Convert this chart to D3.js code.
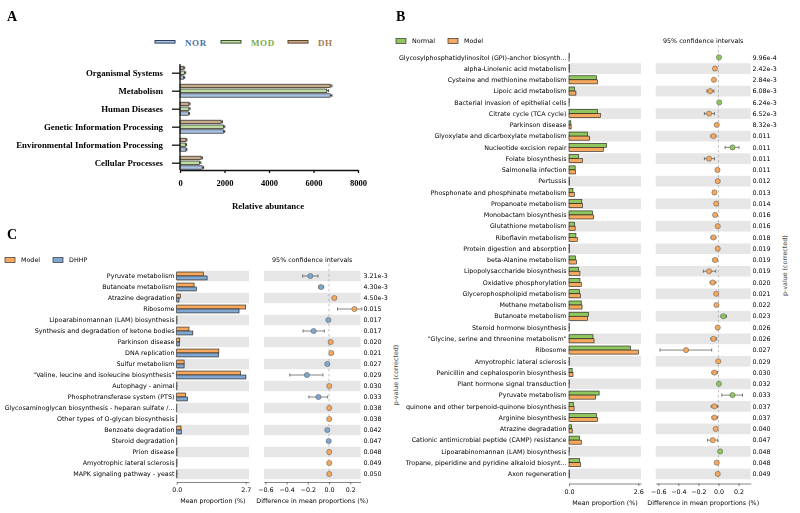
<!DOCTYPE html>
<html>
<head>
<meta charset="UTF-8">
<title>Functional profiles</title>
<script src="https://cdn.jsdelivr.net/npm/d3@7/dist/d3.min.js"></script>
<style>
html, body { margin: 0; padding: 0; background: white; }
svg { display: block; }
.stamp text { font-family: 'DejaVu Sans', sans-serif; fill: #000; }
.panA text { font-family: 'Liberation Serif', 'Times New Roman', serif; font-weight: bold; fill: #000; }
</style>
</head>
<body>
<script>
// ---------- panel A : KEGG level 1 ----------
var aCats = ["Organismal Systems", "Metabolism", "Human Diseases",
  "Genetic Information Processing", "Environmental Information Processing", "Cellular Processes"];
var aNOR = [150, 6750, 380, 1950, 270, 1000];
var aMOD = [200, 6600, 400, 1950, 250, 880];
var aDH  = [150, 6750, 400, 1850, 270, 950];
var aErr = [60, 80, 50, 60, 40, 60];
var aTicks = [0, 2000, 4000, 6000, 8000];
var aGroups = ["NOR", "MOD", "DH"];

// ---------- panel B : Normal vs Model ----------
var bNames = ["Glycosylphosphatidylinositol (GPI)-anchor biosynth...", "alpha-Linolenic acid metabolism",
  "Cysteine and methionine metabolism", "Lipoic acid metabolism", "Bacterial invasion of epithelial cells",
  "Citrate cycle (TCA cycle)", "Parkinson disease", "Glyoxylate and dicarboxylate metabolism",
  "Nucleotide excision repair", "Folate biosynthesis", "Salmonella infection", "Pertussis",
  "Phosphonate and phosphinate metabolism", "Propanoate metabolism", "Monobactam biosynthesis",
  "Glutathione metabolism", "Riboflavin metabolism", "Protein digestion and absorption",
  "beta-Alanine metabolism", "Lipopolysaccharide biosynthesis", "Oxidative phosphorylation",
  "Glycerophospholipid metabolism", "Methane metabolism", "Butanoate metabolism",
  "Steroid hormone biosynthesis", "\"Glycine, serine and threonine metabolism\"", "Ribosome",
  "Amyotrophic lateral sclerosis", "Penicillin and cephalosporin biosynthesis",
  "Plant hormone signal transduction", "Pyruvate metabolism",
  "quinone and other terpenoid-quinone biosynthesis", "Arginine biosynthesis", "Atrazine degradation",
  "Cationic antimicrobial peptide (CAMP) resistance", "Lipoarabinomannan (LAM) biosynthesis",
  "Tropane, piperidine and pyridine alkaloid biosynt...", "Axon regeneration"];
var bNormal = [0.01, 0.02, 1.03, 0.2, 0.01, 1.07, 0.07, 0.7, 1.41, 0.35, 0.23, 0.02, 0.15, 0.48, 0.88,
  0.21, 0.26, 0.02, 0.24, 0.36, 0.41, 0.4, 0.46, 0.73, 0.01, 0.9, 2.3, 0.01, 0.12, 0.01, 1.13, 0.16,
  1.03, 0.1, 0.39, 0.01, 0.4, 0.01];
var bModel = [0.005, 0.025, 1.07, 0.26, 0.005, 1.18, 0.08, 0.77, 1.29, 0.5, 0.24, 0.025, 0.2, 0.5, 0.92,
  0.23, 0.31, 0.025, 0.28, 0.41, 0.46, 0.43, 0.49, 0.69, 0.015, 0.94, 2.6, 0.012, 0.15, 0.005, 1.0, 0.19,
  1.07, 0.12, 0.46, 0.005, 0.43, 0.015];
var bDiff = [0.005, -0.035, -0.045, -0.083, 0.008, -0.093, -0.017, -0.05, 0.14, -0.093, -0.01, -0.007,
  -0.04, -0.023, -0.033, -0.007, -0.05, -0.007, -0.033, -0.093, -0.057, -0.023, -0.02, 0.05, -0.007,
  -0.05, -0.323, -0.002, -0.04, 0.005, 0.14, -0.04, -0.04, -0.027, -0.057, 0.017, -0.017, -0.007];
var bLo = [0.002, -0.04, -0.055, -0.115, 0.005, -0.14, -0.022, -0.075, 0.067, -0.14, -0.014, -0.01,
  -0.05, -0.03, -0.042, -0.012, -0.075, -0.01, -0.055, -0.15, -0.083, -0.03, -0.027, 0.025, -0.01,
  -0.075, -0.583, -0.004, -0.065, 0.003, 0.033, -0.073, -0.065, -0.035, -0.11, 0.013, -0.025, -0.01];
var bHi = [0.008, -0.03, -0.035, -0.045, 0.011, -0.04, -0.012, -0.025, 0.205, -0.04, -0.006, -0.004,
  -0.03, -0.016, -0.024, -0.002, -0.025, -0.004, -0.011, -0.027, -0.025, -0.016, -0.013, 0.08, -0.004,
  -0.018, -0.067, 0, -0.01, 0.007, 0.24, -0.007, -0.01, -0.019, -0.007, 0.021, -0.009, -0.004];
var bP = ["9.96e-4", "2.42e-3", "2.84e-3", "6.08e-3", "6.24e-3", "6.52e-3", "8.32e-3", "0.011", "0.011",
  "0.011", "0.011", "0.012", "0.013", "0.014", "0.016", "0.016", "0.018", "0.019", "0.019", "0.019",
  "0.020", "0.021", "0.022", "0.023", "0.026", "0.026", "0.027", "0.029", "0.030", "0.032", "0.033",
  "0.037", "0.037", "0.040", "0.047", "0.048", "0.048", "0.049"];

// ---------- panel C : Model vs DHHP ----------
var cNames = ["Pyruvate metabolism", "Butanoate metabolism", "Atrazine degradation", "Ribosome",
  "Lipoarabinomannan (LAM) biosynthesis", "Synthesis and degradation of ketone bodies", "Parkinson disease",
  "DNA replication", "Sulfur metabolism", "\"Valine, leucine and isoleucine biosynthesis\"",
  "Autophagy - animal", "Phosphotransferase system (PTS)",
  "Glycosaminoglycan biosynthesis - heparan sulfate /...", "Other types of O-glycan biosynthesis",
  "Benzoate degradation", "Steroid degradation", "Prion disease", "Amyotrophic lateral sclerosis",
  "MAPK signaling pathway - yeast"];
var cModel = [1.04, 0.68, 0.14, 2.7, 0.01, 0.48, 0.12, 1.65, 0.29, 2.5, 0.01, 0.35, 0.005, 0.005,
  0.17, 0.005, 0.012, 0.012, 0.012];
var cDHHP = [1.19, 0.77, 0.09, 2.44, 0.01, 0.63, 0.1, 1.64, 0.29, 2.71, 0.008, 0.43, 0.004, 0.004,
  0.18, 0.006, 0.01, 0.01, 0.01];
var cDiff = [-0.176, -0.075, 0.05, 0.24, -0.006, -0.145, 0.016, 0.022, -0.016, -0.208, 0.002, -0.1,
  0.002, 0.002, -0.016, -0.003, 0.002, 0.002, 0.002];
var cLo = [-0.248, -0.097, 0.035, 0.08, -0.009, -0.245, 0.012, 0.016, -0.022, -0.37, 0, -0.19,
  0, 0, -0.022, -0.005, 0, 0, 0];
var cHi = [-0.104, -0.05, 0.068, 0.31, -0.003, -0.044, 0.02, 0.028, -0.01, -0.057, 0.004, -0.013,
  0.004, 0.004, -0.01, -0.001, 0.004, 0.004, 0.004];
var cP = ["3.21e-3", "4.30e-3", "4.50e-3", "0.015", "0.017", "0.017", "0.020", "0.021", "0.027", "0.029",
  "0.030", "0.033", "0.038", "0.038", "0.042", "0.047", "0.048", "0.049", "0.050"];

var svg = d3.select("body").append("svg")
    .attr("width", 800)
    .attr("height", 513)
    .attr("viewBox", "0 0 800 513");

// grey filter so small text doesn't pick up coloured antialiasing
svg.append("defs").append("filter").attr("id", "grey")
    .attr("x", "-5%").attr("y", "-20%").attr("width", "110%").attr("height", "140%")
    .append("feColorMatrix").attr("type", "saturate").attr("values", "0");

// ================= panel A =================
var pa = svg.append("g").attr("class", "panA");
var aFill = { NOR: "#a9c2e3", MOD: "#bedca2", DH: "#c9ab88" };
var aLine = { NOR: "#2d3f5e", MOD: "#3f5232", DH: "#5a4430" };
var aText = { NOR: "#4f6fa3", MOD: "#7cab45", DH: "#a27b52" };
var aVals = { NOR: aNOR, MOD: aMOD, DH: aDH };

pa.append("text").attr("x", 7).attr("y", 21).attr("font-size", 14).text("A");

var ax = d3.scaleLinear().domain([0, 8000]).range([180, 358]);
var ay = d3.scalePoint().domain(aCats).range([72.7, 162.7]);
// DH on top, MOD in the middle, NOR at the bottom of each group
var aSub = d3.scalePoint().domain(["DH", "MOD", "NOR"]).range([-4.8, 4.8]);

aGroups.forEach(function (g, k) {
    var lx = [155, 221, 288][k];
    pa.append("rect").attr("x", lx).attr("y", 40.5).attr("width", 20).attr("height", 2.6)
        .attr("fill", aFill[g]).attr("stroke", aLine[g]).attr("stroke-width", 1);
    pa.append("text").attr("class", "legtxt").attr("x", lx + 30).attr("y", 45.5).attr("font-size", 9)
        .attr("font-weight", "normal").attr("letter-spacing", 0.6)
        .style("fill", aText[g]).text(g);
});

aGroups.forEach(function (g) {
    var vals = aVals[g];
    var gg = pa.append("g");
    gg.selectAll("rect").data(aCats).enter().append("rect")
        .attr("x", ax(0))
        .attr("y", function (d) { return ay(d) + aSub(g) - 1.7; })
        .attr("width", function (d, i) { return ax(vals[i]) - ax(0); })
        .attr("height", 3.4)
        .attr("fill", aFill[g])
        .attr("stroke", "#222")
        .attr("stroke-width", 0.7);
    gg.selectAll("path").data(aCats).enter().append("path")
        .attr("d", function (d, i) {
            var x1 = ax(vals[i]), x2 = ax(vals[i] + aErr[i]), yy = ay(d) + aSub(g);
            return "M" + x1 + "," + yy + "H" + x2 + "M" + x2 + "," + (yy - 1.5) + "V" + (yy + 1.5);
        })
        .attr("stroke", "#222").attr("stroke-width", 0.8).attr("fill", "none");
});

var axB = pa.append("g").attr("transform", "translate(0,170)")
    .call(d3.axisBottom(ax).tickValues(aTicks).tickFormat(d3.format("d"))
        .tickSize(3).tickSizeOuter(0).tickPadding(7));
axB.selectAll("text").attr("font-size", 8.5);
var axL = pa.append("g").attr("transform", "translate(180,0)")
    .call(d3.axisLeft(ay).tickSize(8).tickPadding(9));
axL.select(".domain").attr("d", "M0,64V170");
axL.selectAll("text").attr("font-size", 8.8);
pa.selectAll(".domain, .tick line").attr("stroke", "#111").attr("stroke-width", 1.3);
pa.append("text").attr("x", 268).attr("y", 209).attr("text-anchor", "middle")
    .attr("font-size", 8.8).text("Relative abuntance");

// ================= STAMP style panels =================
var fs = 6.35;
function stampPanel(cfg) {
    var g = svg.append("g").attr("class", "stamp");
    var n = cfg.names.length, step = cfg.step;
    var idx = d3.range(n);
    var y = d3.scaleBand().domain(idx)
        .range([cfg.y0 - step / 2, cfg.y0 + (n - 0.5) * step]).paddingInner(0);
    var yc = function (i) { return y(i) + step / 2; };

    var xb = d3.scaleLinear().domain([0, cfg.barMax]).range(cfg.barRange);
    var xbAxis = xb.copy().domain([0, xb.invert(cfg.barBand[1])]).range([cfg.barRange[0], cfg.barBand[1]]);
    var xc = d3.scaleLinear().domain([-0.6, 0.2]).range(cfg.ciRange);
    var xcAxis = xc.copy().domain([xc.invert(cfg.ciBand[0]), xc.invert(cfg.ciBand[1])]).range(cfg.ciBand);

    g.append("text").attr("x", cfg.letter[0]).attr("y", cfg.letter[1])
        .style("font-family", "'Liberation Serif', serif").style("font-weight", "bold")
        .attr("font-size", 14).style("fill", "#000").text(cfg.letterText);

    // legend
    cfg.groups.forEach(function (name, k) {
        var lx = cfg.legendX[k];
        g.append("rect").attr("x", lx).attr("y", cfg.legendY - 2.5).attr("width", 10).attr("height", 5)
            .attr("fill", cfg.colors[k]).attr("stroke", "#333").attr("stroke-width", 0.7);
        g.append("text").attr("x", lx + 16).attr("y", cfg.legendY + 2.2).attr("font-size", fs).text(name);
    });
    g.append("text").attr("x", (cfg.ciBand[0] + cfg.ciBand[1]) / 2).attr("y", cfg.legendY + 1.5)
        .attr("text-anchor", "middle").attr("font-size", fs).text("95% confidence intervals");

    // alternating bands
    var bandRows = idx.filter(function (i) { return i % 2 === cfg.bandParity; });
    [cfg.barBand, cfg.ciBand].forEach(function (bb) {
        g.append("g").selectAll("rect").data(bandRows).enter().append("rect")
            .attr("x", bb[0]).attr("width", bb[1] - bb[0])
            .attr("y", function (i) { return y(i) + 0.3; })
            .attr("height", step - 0.6)
            .attr("fill", "#e6e6e6");
    });

    // labels
    g.append("g").selectAll("text").data(idx).enter().append("text")
        .attr("x", cfg.labelX).attr("y", function (i) { return yc(i) + 2.2; })
        .attr("text-anchor", "end").attr("font-size", fs)
        .text(function (i) { return cfg.names[i]; });

    // bars
    var bh = step * 0.36;
    [cfg.v1, cfg.v2].forEach(function (vals, k) {
        g.append("g").selectAll("rect").data(idx).enter().append("rect")
            .attr("x", xb(0))
            .attr("y", function (i) { return yc(i) - bh + k * bh; })
            .attr("width", function (i) { return Math.max(0, xb(vals[i]) - xb(0)); })
            .attr("height", bh)
            .attr("fill", cfg.colors[k])
            .attr("stroke", "#1a1a1a").attr("stroke-width", 0.6);
    });

    // zero line
    g.append("line").attr("x1", xc(0)).attr("x2", xc(0))
        .attr("y1", cfg.y0 - step * 1.1).attr("y2", cfg.y0 + (n - 0.5) * step)
        .attr("stroke", "#999").attr("stroke-width", 0.6).attr("stroke-dasharray", "2.5,2.5");

    // confidence intervals
    g.append("g").selectAll("path").data(idx).enter().append("path")
        .attr("d", function (i) {
            var a = xc(cfg.lo[i]), b = xc(cfg.hi[i]), yy = yc(i);
            return "M" + a + "," + yy + "H" + b + "M" + a + "," + (yy - 1.6) + "V" + (yy + 1.6) +
                "M" + b + "," + (yy - 1.6) + "V" + (yy + 1.6);
        })
        .attr("stroke", "#333").attr("stroke-width", 0.6).attr("fill", "none");
    g.append("g").selectAll("circle").data(idx).enter().append("circle")
        .attr("cx", function (i) { return xc(cfg.diff[i]); })
        .attr("cy", yc)
        .attr("r", 2.6)
        .attr("fill", function (i) { return cfg.diff[i] > 0 ? cfg.colors[0] : cfg.colors[1]; })
        .attr("stroke", "#555").attr("stroke-width", 0.5);

    // p-values
    g.append("g").selectAll("text").data(idx).enter().append("text")
        .attr("x", cfg.pX).attr("y", function (i) { return yc(i) + 2.2; })
        .attr("font-size", fs).text(function (i) { return cfg.p[i]; });
    var midY = cfg.y0 + (n - 1) * step / 2;
    g.append("text").attr("class", "vlab")
        .attr("transform", "translate(" + cfg.pLabelX + "," + midY + ") rotate(-90)")
        .attr("text-anchor", "middle").attr("font-size", fs).text("p-value (corrected)");

    // axes
    var fmt = d3.format(".1f");
    var gb = g.append("g").attr("transform", "translate(0," + cfg.axisY + ")")
        .call(d3.axisBottom(xbAxis).tickValues([0, cfg.barMax]).tickFormat(fmt).tickSize(2.5).tickSizeOuter(0).tickPadding(3));
    var gc = g.append("g").attr("transform", "translate(0," + cfg.axisY + ")")
        .call(d3.axisBottom(xcAxis).tickValues([-0.6, -0.4, -0.2, 0, 0.2]).tickFormat(fmt).tickSize(2.5).tickSizeOuter(0).tickPadding(3));
    [gb, gc].forEach(function (a) {
        a.selectAll("text").attr("font-size", fs).attr("font-family", "'DejaVu Sans', sans-serif");
        a.selectAll(".domain, .tick line").attr("stroke", "#333").attr("stroke-width", 0.6);
    });
    g.append("text").attr("x", (cfg.barBand[0] + cfg.barBand[1]) / 2).attr("y", cfg.axisY + 21)
        .attr("text-anchor", "middle").attr("font-size", fs).text("Mean proportion (%)");
    g.append("text").attr("x", (cfg.ciBand[0] + cfg.ciBand[1]) / 2).attr("y", cfg.axisY + 21)
        .attr("text-anchor", "middle").attr("font-size", fs).text("Difference in mean proportions (%)");
}

stampPanel({
    letterText: "B", letter: [396, 21],
    groups: ["Normal", "Model"], colors: ["#8fc75e", "#f6a95e"],
    legendX: [396, 448], legendY: 41,
    names: bNames, v1: bNormal, v2: bModel, diff: bDiff, lo: bLo, hi: bHi, p: bP,
    y0: 57.3, step: 11.26, bandParity: 1,
    labelX: 566.5,
    barMax: 2.6, barRange: [569, 638.3], barBand: [569, 641],
    ciRange: [658.3, 738.5], ciBand: [655.7, 750.7],
    pX: 752.5, pLabelX: 787, axisY: 483.5
});

stampPanel({
    letterText: "C", letter: [7, 239],
    groups: ["Model", "DHHP"], colors: ["#f6a95e", "#7fa7cf"],
    legendX: [5, 53], legendY: 260,
    names: cNames, v1: cModel, v2: cDHHP, diff: cDiff, lo: cLo, hi: cHi, p: cP,
    y0: 276, step: 11.0, bandParity: 0,
    labelX: 174.5,
    barMax: 2.7, barRange: [176.7, 245.7], barBand: [176.7, 249],
    ciRange: [265.4, 350.2], ciBand: [264, 360.5],
    pX: 363.5, pLabelX: 398, axisY: 482
});

// dark text only; the coloured legend words of panel A keep their colour
svg.selectAll("text").filter(function () {
    return !this.classList.contains("legtxt") && !this.classList.contains("vlab");
}).attr("filter", "url(#grey)");
svg.selectAll(".vlab").style("fill", "#444");
</script>
</body>
</html>
